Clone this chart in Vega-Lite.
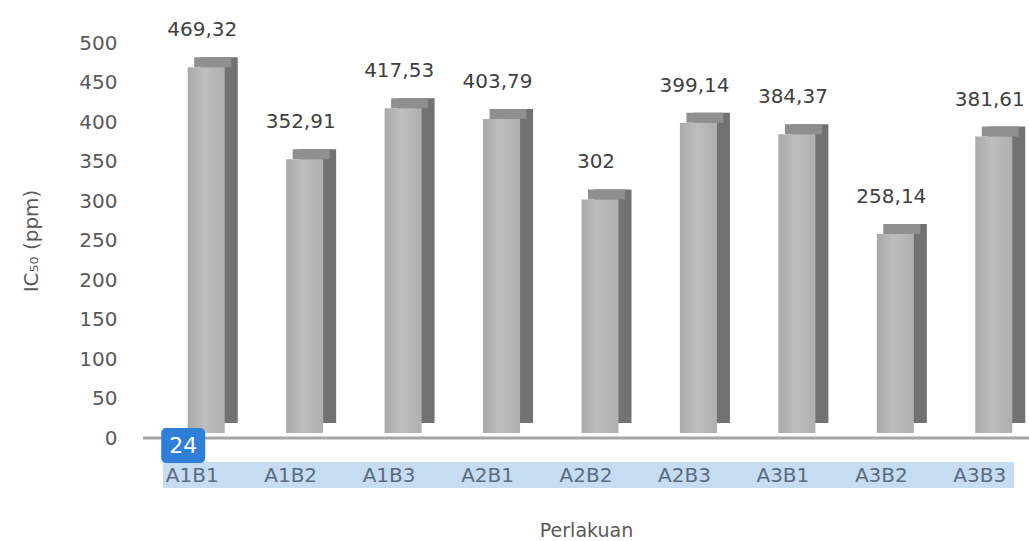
{
  "$schema": "https://vega.github.io/schema/vega-lite/v6.json",
  "width": 886,
  "height": 395,
  "autosize": {"type": "none"},
  "padding": {"left": 143, "top": 43, "right": 0, "bottom": 103},
  "background": "white",
  "config": {"view": {"stroke": null}, "font": "DejaVu Sans"},
  "datasets": {
    "bars": [
      {"cat": "A1B1", "value": 469.32, "label": "469,32"},
      {"cat": "A1B2", "value": 352.91, "label": "352,91"},
      {"cat": "A1B3", "value": 417.53, "label": "417,53"},
      {"cat": "A2B1", "value": 403.79, "label": "403,79"},
      {"cat": "A2B2", "value": 302, "label": "302"},
      {"cat": "A2B3", "value": 399.14, "label": "399,14"},
      {"cat": "A3B1", "value": 384.37, "label": "384,37"},
      {"cat": "A3B2", "value": 258.14, "label": "258,14"},
      {"cat": "A3B3", "value": 381.61, "label": "381,61"}
    ]
  },
  "data": {"name": "bars"},
  "encoding": {
    "x": {
      "field": "cat", "type": "nominal",
      "scale": {"domain": ["A1B1","A1B2","A1B3","A2B1","A2B2","A2B3","A3B1","A3B2","A3B3"], "paddingInner": 0, "paddingOuter": 0},
      "axis": {
        "title": "Perlakuan", "labelAngle": 0, "labelAlign": "center", "bandPosition": 0.5, "ticks": false, "domain": false, "zindex": 1,
        "labelPadding": 27, "labelFontSize": 20, "labelColor": "#5b6b80",
        "titleFontSize": 19, "titleFontWeight": "normal", "titleColor": "#595959", "titlePadding": 36
      }
    },
    "y": {
      "field": "value", "type": "quantitative",
      "scale": {"domain": [0, 500], "nice": false},
      "axis": {
        "title": "IC₅₀ (ppm)", "values": [0, 50, 100, 150, 200, 250, 300, 350, 400, 450, 500], "labelOverlap": false,
        "ticks": false, "domain": false, "grid": false, "labelPadding": 26,
        "labelFontSize": 20, "labelColor": "#595959",
        "titleFontSize": 20, "titleFontWeight": "normal", "titleColor": "#595959", "titlePadding": 37
      }
    }
  },
  "layer": [
    {
      "data": {"values": [{"value": 0}]},
      "mark": {"type": "rule", "color": "#a6a6a6", "strokeWidth": 3},
      "encoding": {"x": null}
    },
    {
      "data": {"values": [{"cat": "A2B2", "value": -30.4, "value2": -63.3}]},
      "mark": {"type": "bar", "color": "#c6dcf3", "width": 851, "xOffset": 2.5},
      "encoding": {"y2": {"field": "value2"}}
    },
    {
      "mark": {"type": "bar", "color": "#727272", "width": 37, "xOffset": 27, "yOffset": -10, "y2Offset": -15},
      "encoding": {"y2": {"datum": 0}}
    },
    {
      "mark": {"type": "bar", "color": "#8f8f8f", "width": 37, "xOffset": 20.5, "yOffset": -10, "y2Offset": 0},
      "encoding": {"y2": {"field": "value"}}
    },
    {
      "mark": {
        "type": "bar",
        "width": 37,
        "xOffset": 14,
        "y2Offset": -5,
        "color": {"gradient": "linear", "x1": 0, "x2": 1, "y1": 0, "y2": 0,
          "stops": [{"offset": 0, "color": "#a9a9a9"}, {"offset": 0.45, "color": "#bebebe"}, {"offset": 1, "color": "#afafaf"}]}
      },
      "encoding": {"y2": {"datum": 0}}
    },
    {
      "mark": {"type": "text", "fontSize": 20, "color": "#404040", "baseline": "middle", "dx": 10, "dy": -37},
      "encoding": {"text": {"field": "label"}}
    },
    {
      "data": {"values": [{"cat": "A1B1", "value": 12.7, "value2": -31.6}]},
      "mark": {"type": "bar", "color": "#2f7ed8", "width": 44, "xOffset": -9, "cornerRadius": 5},
      "encoding": {"y2": {"field": "value2"}}
    },
    {
      "data": {"values": [{"cat": "A1B1", "value": -10, "page": "24"}]},
      "mark": {"type": "text", "color": "white", "fontSize": 22, "baseline": "middle", "dx": -9},
      "encoding": {"text": {"field": "page"}}
    }
  ]
}
